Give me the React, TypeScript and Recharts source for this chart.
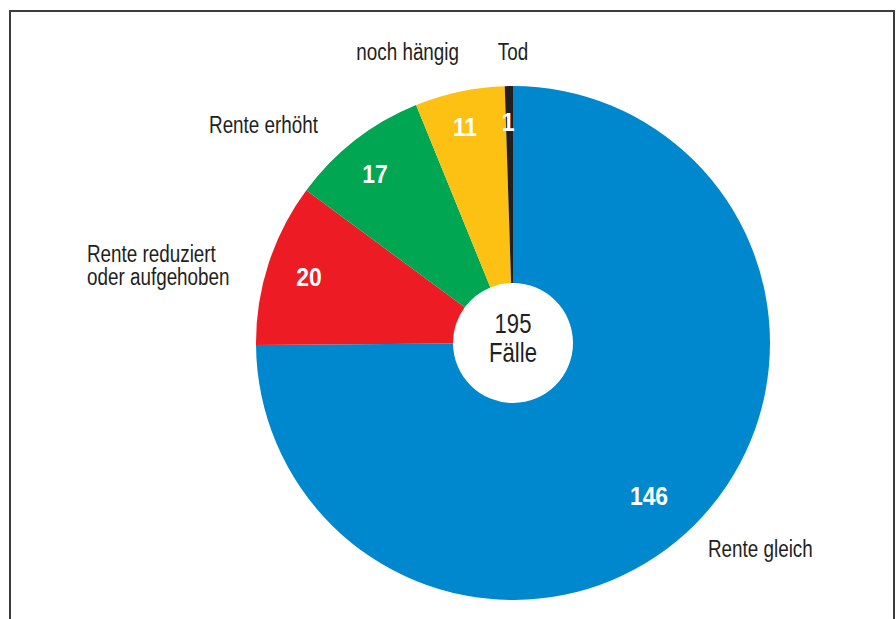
import React from "react";
import { PieChart, Pie, Cell } from "recharts";

const categories = ["Rente gleich", "Rente reduziert\noder aufgehoben", "Rente erhöht", "noch hängig", "Tod"];
const values = [146, 20, 17, 11, 1];
const colors = ["#0088CE", "#ED1C24", "#00A651", "#FDC113", "#231F20"];
const totalLabel = ["195", "Fälle"];

const data = categories.map((name, i) => ({ name, value: values[i] }));

// label placement relative to pie centre (layout only)
const NUM_POS = [
  { dx: 136, dy: 162 },
  { dx: -204, dy: -57 },
  { dx: -138, dy: -160 },
  { dx: -48, dy: -207 },
  { dx: -5, dy: -212 },
];
const NAME_POS = [
  { dx: 195, dy: 214, anchor: "start" },
  { dx: -426, dy: -81, anchor: "start" },
  { dx: -195, dy: -210, anchor: "end" },
  { dx: -54, dy: -283, anchor: "end" },
  { dx: 0, dy: -283, anchor: "middle" },
];

const FONT = "'Liberation Sans', Arial, sans-serif";
const TEXT = "#231F20";
const NARROW = 0.82;

const Narrow = ({ x, y, scale, children }: any) => (
  <g transform={`translate(${x},${y}) scale(${scale},1)`}>{children}</g>
);

const renderLabel = (props: any) => {
  const { cx, cy, index, value, name } = props;
  const n = NUM_POS[index];
  const p = NAME_POS[index];
  const lines = String(name).split("\n");
  return (
    <g key={`lbl-${index}`}>
      <Narrow x={cx + n.dx} y={cy + n.dy} scale={0.88}>
        <text x={0} y={0} textAnchor="middle" fill="#fff" fontFamily={FONT} fontWeight={700} fontSize={26}>
          {value}
        </text>
      </Narrow>
      <Narrow x={cx + p.dx} y={cy + p.dy} scale={NARROW}>
        <text x={0} y={0} textAnchor={p.anchor as any} fill={TEXT} fontFamily={FONT} fontSize={23}>
          {lines.map((l, i) => (
            <tspan key={i} x={0} dy={i === 0 ? 0 : 23.5}>
              {l}
            </tspan>
          ))}
        </text>
      </Narrow>
      {index === 0 ? (
        <Narrow x={cx} y={cy} scale={NARROW}>
          <text textAnchor="middle" fill={TEXT} fontFamily={FONT} fontSize={27}>
            <tspan x={0} y={-10}>{totalLabel[0]}</tspan>
            <tspan x={0} y={19}>{totalLabel[1]}</tspan>
          </text>
        </Narrow>
      ) : null}
    </g>
  );
};

export default function App() {
  return (
    <div style={{ position: "absolute", left: 0, top: 0, width: 896, height: 619, background: "#fff", overflow: "hidden" }}>
      <div
        style={{
          position: "absolute",
          left: 9,
          top: 10,
          width: 882,
          height: 640,
          borderLeft: "2px solid #3c3c3c",
          borderTop: "2px solid #3c3c3c",
          borderRight: "2px solid #3c3c3c",
        }}
      />
      <div style={{ position: "absolute", left: 0, top: 0 }}>
        <PieChart width={896} height={619} margin={{ top: 0, right: 0, bottom: 0, left: 0 }}>
          <Pie
            data={data}
            dataKey="value"
            nameKey="name"
            cx={513}
            cy={343}
            innerRadius={60}
            outerRadius={257}
            startAngle={90}
            endAngle={-270}
            stroke="none"
            label={renderLabel}
            labelLine={false}
            isAnimationActive={false}
          >
            {data.map((d, i) => (
              <Cell key={d.name} fill={colors[i]} stroke="none" />
            ))}
          </Pie>
        </PieChart>
      </div>
    </div>
  );
}
